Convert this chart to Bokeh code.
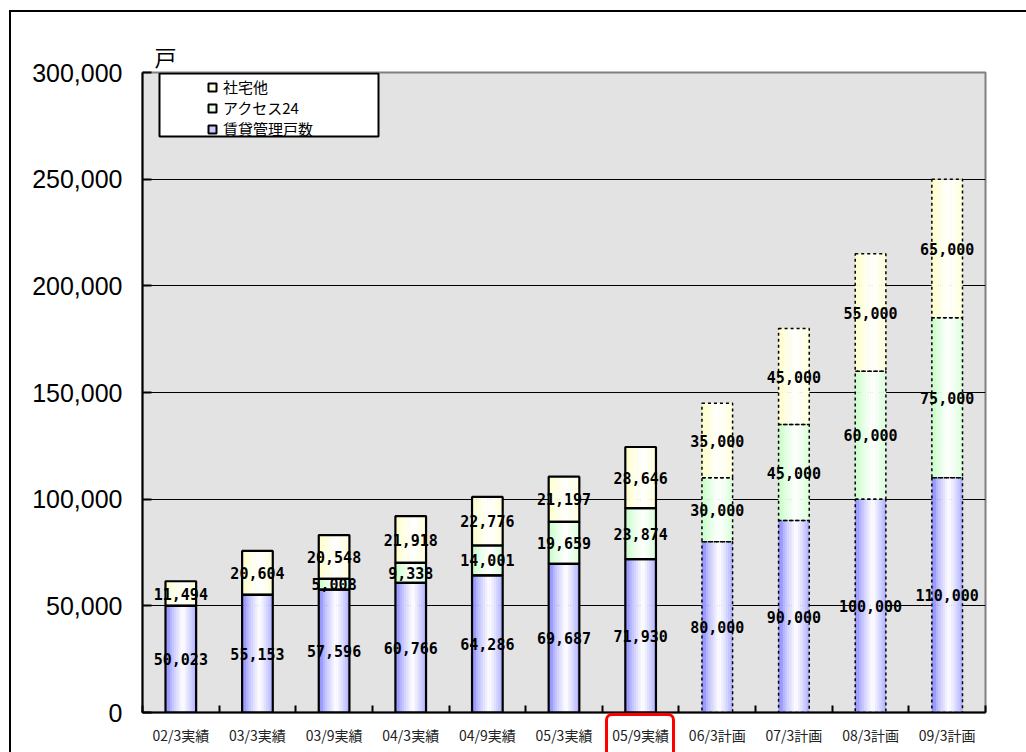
import numpy as np
from bokeh.plotting import figure
from bokeh.models import (ColumnDataSource, FixedTicker, NumeralTickFormatter,
                          Legend, LegendItem, BoxAnnotation, InlineStyleSheet)
from bokeh.core.properties import value
from bokeh.embed import file_html
from bokeh.resources import INLINE

# ---- data -------------------------------------------------------------
periods = ["02/3実績", "03/3実績", "03/9実績", "04/3実績", "04/9実績", "05/3実績",
           "05/9実績", "06/3計画", "07/3計画", "08/3計画", "09/3計画"]
managed = [50023, 55153, 57596, 60766, 64286, 69687, 71930, 80000, 90000, 100000, 110000]
access24 = [0, 0, 5008, 9338, 14001, 19659, 23874, 30000, 45000, 60000, 75000]
company = [11494, 20604, 20548, 21918, 22776, 21197, 28646, 35000, 45000, 55000, 65000]
series_names = ["賃貸管理戸数", "アクセス24", "社宅他"]
n_actual = 7          # results; the remaining periods are plans
y_ticks = [0, 50000, 100000, 150000, 200000, 250000, 300000]
unit_label = "戸"

# ---- styling ----------------------------------------------------------
edge_colors = [(150, 150, 255), (204, 255, 204), (255, 255, 204)]
BAR_W = 0.4
N_STRIPS = 14
LABEL_FONT = "DejaVu Sans Mono"
CJK_FONT = "Noto Sans CJK JP"

xs = np.arange(len(periods)) + 0.5
values = [np.array(managed), np.array(access24), np.array(company)]
tops = np.cumsum(values, axis=0)
bottoms = tops - values

p = figure(width=1026, height=752, x_range=(0, len(periods)), y_range=(0, 300000),
           output_backend="svg", toolbar_location=None,
           min_border_left=142, min_border_right=41, min_border_top=72, min_border_bottom=40)
p.background_fill_color = "#e3e3e3"
p.border_fill_color = "white"
p.outline_line_color = "#808080"
p.outline_line_width = 2

# page frame and the highlight around the latest result period
p.stylesheets = [InlineStyleSheet(css="""
:host { position: relative; overflow: hidden; }
:host::before { content: ""; position: absolute; left: 9px; top: 10px;
  width: 1060px; height: 800px; border: 2px solid #000; pointer-events: none; z-index: 20; }
:host::after { content: ""; position: absolute; left: 605px; top: 713px;
  width: 64px; height: 60px; border: 3px solid #ff0000; border-radius: 7px;
  pointer-events: none; z-index: 20; }
""")]

# unit label above the value axis
p.title.text = unit_label
p.title.align = "left"
p.title.offset = 12
p.title.standoff = 2
p.title.text_font = CJK_FONT
p.title.text_font_size = "22px"
p.title.text_font_style = "normal"
p.title.text_color = "black"

# gradient-filled stacked bars, built from thin vertical strips
def mix(rgb, a):
    r, g, b = (int(round(c + (255 - c) * a)) for c in rgb)
    return f"#{r:02x}{g:02x}{b:02x}"

strip_w = BAR_W / N_STRIPS
for s in range(3):
    for k in range(N_STRIPS):
        pos = (k + 0.5) / N_STRIPS
        a = max(0.0, 1.0 - abs(pos - 0.57) / 0.47)
        a = min(1.0, a ** 0.7)
        src = ColumnDataSource(dict(x=xs - BAR_W / 2 + (k + 0.5) * strip_w,
                                    bottom=bottoms[s], top=tops[s]))
        p.vbar(x="x", width=strip_w * 1.15, bottom="bottom", top="top", source=src,
               fill_color=mix(edge_colors[s], a), line_color=None)

# outlines: solid for results, dashed for plans
for s in range(3):
    act = ColumnDataSource(dict(x=xs[:n_actual], bottom=bottoms[s][:n_actual], top=tops[s][:n_actual]))
    plan = ColumnDataSource(dict(x=xs[n_actual:], bottom=bottoms[s][n_actual:], top=tops[s][n_actual:]))
    p.vbar(x="x", width=BAR_W, bottom="bottom", top="top", source=act,
           fill_color=None, line_color="black", line_width=2.2)
    p.vbar(x="x", width=BAR_W, bottom="bottom", top="top", source=plan,
           fill_color=None, line_color="black", line_width=1.5, line_dash="3 3")

# value labels centred in each segment
lx, ly, lt = [], [], []
for s in range(3):
    for i in range(len(periods)):
        v = int(values[s][i])
        if v > 0:
            lx.append(xs[i])
            ly.append((bottoms[s][i] + tops[s][i]) / 2)
            lt.append(f"{v:,}")
p.text(x="x", y="y", text="t", source=ColumnDataSource(dict(x=lx, y=ly, t=lt)),
       text_font=value(LABEL_FONT), text_font_style="bold", text_font_size="15px",
       text_color="black", text_align="center", text_baseline="middle")

# axes
p.yaxis.ticker = FixedTicker(ticks=y_ticks)
p.ygrid.ticker = FixedTicker(ticks=y_ticks[1:-1])
p.yaxis.formatter = NumeralTickFormatter(format="0,0")
p.yaxis.major_label_text_font = "Liberation Sans"
p.yaxis.major_label_text_font_size = "25px"
p.yaxis.major_label_text_color = "black"
p.yaxis.major_label_standoff = 20
p.yaxis.axis_line_width = 2
p.yaxis.axis_line_color = "black"
p.yaxis.major_tick_in = 9
p.yaxis.major_tick_out = 0
p.yaxis.major_tick_line_width = 2
p.yaxis.minor_tick_line_color = None

p.xaxis.ticker = FixedTicker(ticks=list(xs), minor_ticks=list(range(0, len(periods) + 1)))
p.xaxis.major_label_overrides = {float(x): lab for x, lab in zip(xs, periods)}
p.xaxis.major_label_text_font = CJK_FONT
p.xaxis.major_label_text_font_size = "14px"
p.xaxis.major_label_text_color = "#222222"
p.xaxis.major_label_standoff = 12
p.xaxis.major_tick_line_color = None
p.xaxis.major_tick_in = 0
p.xaxis.major_tick_out = 0
p.xaxis.minor_tick_in = 7
p.xaxis.minor_tick_out = 0
p.xaxis.minor_tick_line_width = 2
p.xaxis.minor_tick_line_color = "black"
p.xaxis.axis_line_width = 2
p.xaxis.axis_line_color = "black"

p.xgrid.visible = False
p.ygrid.grid_line_color = "black"
p.ygrid.grid_line_width = 1

# legend box and entries
p.add_layout(BoxAnnotation(left=159, right=378, top=73, bottom=136,
                           left_units="canvas", right_units="canvas",
                           top_units="canvas", bottom_units="canvas",
                           fill_color="white", fill_alpha=1.0,
                           line_color="black", line_alpha=1.0, line_width=2))
items = []
for s in (2, 1, 0):
    r = p.scatter(x=xs, y=(bottoms[s] + tops[s]) / 2, marker="square", size=0,
                  fill_color=mix(edge_colors[s], 0.5), line_color="black", line_width=2)
    items.append(LegendItem(label=series_names[s], renderers=[r]))
legend = Legend(items=items, location=(60, 573), padding=0, margin=0, spacing=0,
                glyph_width=20, glyph_height=20, label_height=20, label_standoff=1,
                label_text_font=CJK_FONT, label_text_font_size="15px",
                label_text_line_height=1.0,
                label_text_color="black", border_line_color=None,
                background_fill_alpha=0)
p.add_layout(legend)

open("out.html", "w").write(file_html(p, INLINE))
